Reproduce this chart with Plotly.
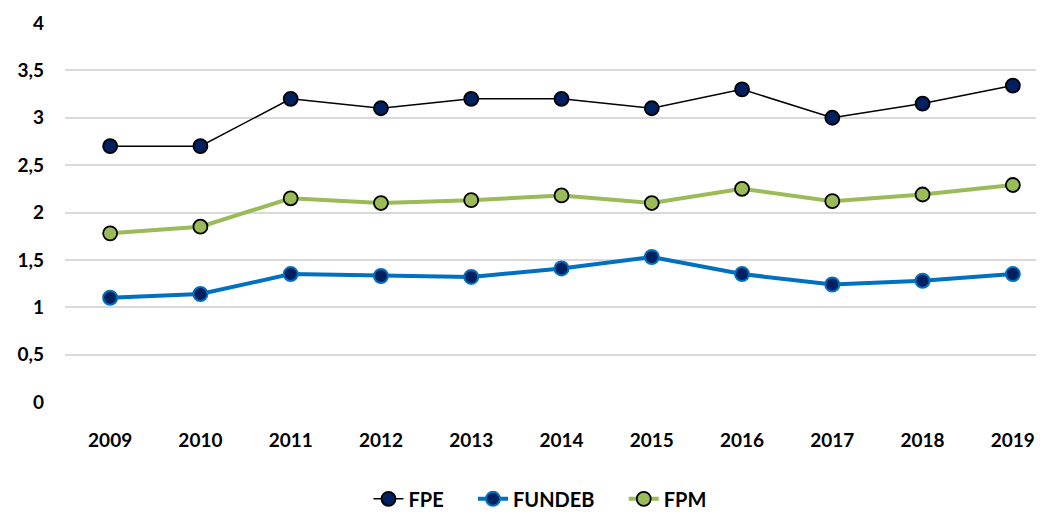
import plotly.graph_objects as go

years = ["2009", "2010", "2011", "2012", "2013", "2014", "2015", "2016", "2017", "2018", "2019"]
fpe = [2.70, 2.70, 3.20, 3.10, 3.20, 3.20, 3.10, 3.30, 3.00, 3.15, 3.34]
fundeb = [1.10, 1.14, 1.35, 1.33, 1.32, 1.41, 1.53, 1.35, 1.24, 1.28, 1.35]
fpm = [1.78, 1.85, 2.15, 2.10, 2.13, 2.18, 2.10, 2.25, 2.12, 2.19, 2.29]
y_ticks = [0, 0.5, 1, 1.5, 2, 2.5, 3, 3.5, 4]
y_tick_text = ["0", "0,5", "1", "1,5", "2", "2,5", "3", "3,5", "4"]
series_names = ["FPE", "FUNDEB", "FPM"]

font_family = "Lato, 'Open Sans', sans-serif"
tick_font = dict(family=font_family, size=19, color="#000000", weight="bold")
pad = "\u00a0" * 5

fig = go.Figure()
fig.add_trace(go.Scatter(
    x=years, y=fpe, name=series_names[0] + pad, mode="lines+markers",
    line=dict(color="#000000", width=1.5),
    marker=dict(size=14, color="#002060", line=dict(color="#000000", width=1.8)),
))
fig.add_trace(go.Scatter(
    x=years, y=fundeb, name=series_names[1] + pad, mode="lines+markers",
    line=dict(color="#0070C0", width=4),
    marker=dict(size=14, color="#002060", line=dict(color="#0070C0", width=2)),
))
fig.add_trace(go.Scatter(
    x=years, y=fpm, name=series_names[2], mode="lines+markers",
    line=dict(color="#9BBB59", width=4),
    marker=dict(size=14, color="#9BBB59", line=dict(color="#000000", width=1.8)),
))

fig.update_layout(
    width=1036, height=506,
    margin=dict(l=57, r=0, t=15, b=112),
    paper_bgcolor="white", plot_bgcolor="white",
    font=dict(family=font_family, size=19, color="#000000"),
    showlegend=True,
    legend=dict(
        orientation="h", x=0.31, xanchor="left",
        yref="container", y=0.03, yanchor="middle",
        font=dict(family=font_family, size=20, color="#000000", weight="bold"),
        tracegroupgap=0, bgcolor="rgba(0,0,0,0)",
    ),
    xaxis=dict(
        type="category", range=[-0.5, 10.345],
        showgrid=False, zeroline=False, showline=False,
        ticks="", ticklabelstandoff=25,
        tickfont=tick_font,
    ),
    yaxis=dict(
        range=[0, 4], tickvals=y_ticks, ticktext=y_tick_text,
        showgrid=True, gridcolor="#D9D9D9", gridwidth=1.5,
        zeroline=False, showline=False, ticks="", ticklabelstandoff=20,
        tickfont=tick_font,
    ),
)

fig.write_html("out.html")
